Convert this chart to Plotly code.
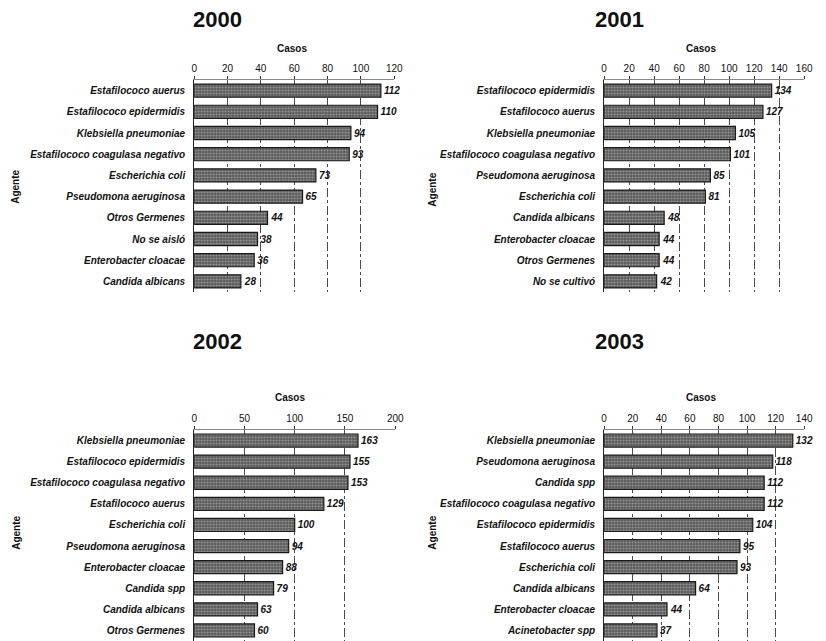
import plotly.graph_objects as go

W, H = 826, 641

# --- data -------------------------------------------------------------
years = ["2000", "2001", "2002", "2003"]

agentes_2000 = ["Estafilococo auerus", "Estafilococo epidermidis", "Klebsiella pneumoniae",
                "Estafilococo coagulasa negativo", "Escherichia coli", "Pseudomona aeruginosa",
                "Otros Germenes", "No se aisló", "Enterobacter cloacae", "Candida albicans"]
casos_2000 = [112, 110, 94, 93, 73, 65, 44, 38, 36, 28]

agentes_2001 = ["Estafilococo epidermidis", "Estafilococo auerus", "Klebsiella pneumoniae",
                "Estafilococo coagulasa negativo", "Pseudomona aeruginosa", "Escherichia coli",
                "Candida albicans", "Enterobacter cloacae", "Otros Germenes", "No se cultivó"]
casos_2001 = [134, 127, 105, 101, 85, 81, 48, 44, 44, 42]

agentes_2002 = ["Klebsiella pneumoniae", "Estafilococo epidermidis", "Estafilococo coagulasa negativo",
                "Estafilococo auerus", "Escherichia coli", "Pseudomona aeruginosa",
                "Enterobacter cloacae", "Candida spp", "Candida albicans", "Otros Germenes"]
casos_2002 = [163, 155, 153, 129, 100, 94, 88, 79, 63, 60]

agentes_2003 = ["Klebsiella pneumoniae", "Pseudomona aeruginosa", "Candida spp",
                "Estafilococo coagulasa negativo", "Estafilococo epidermidis", "Estafilococo auerus",
                "Escherichia coli", "Candida albicans", "Enterobacter cloacae", "Acinetobacter spp"]
casos_2003 = [132, 118, 112, 112, 104, 95, 93, 64, 44, 37]

x_max = [120, 160, 200, 140]
x_step = [20, 20, 50, 20]

# --- layout geometry (pixels) ----------------------------------------
# plot areas: (left, right, top, bottom)
boxes = [(194, 397, 80, 292), (610, 813, 80, 292),
         (194, 398, 430, 641), (610, 813, 430, 641)]
title_pos = [(218, 20), (626, 19), (218, 341), (626, 341)]
casos_pos = [(293, 49), (708, 49), (291, 397), (708, 397)]
agente_pos = [(13, 187), (435, 190), (13, 533), (435, 533)]

FONT = "Liberation Sans, Arial, sans-serif"
INK = "#111111"


def fx(px):
    return px / W


def fy(py):
    return 1 - py / H


panels = [(agentes_2000, casos_2000), (agentes_2001, casos_2001),
          (agentes_2002, casos_2002), (agentes_2003, casos_2003)]

fig = go.Figure()
layout = {}
annotations = []

for i, (cats, vals) in enumerate(panels):
    n = "" if i == 0 else str(i + 1)
    fig.add_trace(go.Bar(
        x=vals, y=cats, orientation="h",
        xaxis="x" + n, yaxis="y" + n,
        width=0.62,
        marker=dict(
            color="#5a5a5a",
            line=dict(color="#1a1a1a", width=1.2),
            pattern=dict(shape=".", fgcolor="#d6d6d6", bgcolor="#5a5a5a",
                         size=3, solidity=0.35),
        ),
        text=vals, texttemplate="%{x}", textposition="outside",
        textfont=dict(family=FONT, size=10, color=INK, weight="bold", style="italic"),
        cliponaxis=False, showlegend=False, hoverinfo="x+y",
    ))
    l, r, t, b = boxes[i]
    layout["xaxis" + n] = dict(
        domain=[fx(l), fx(r)], anchor="y" + n, side="top",
        range=[0, x_max[i]], dtick=x_step[i], tick0=0,
        showgrid=True, gridcolor="#4a4a4a", griddash="dashdot", gridwidth=1,
        showline=True, linecolor="#8a8a8a", linewidth=1,
        ticks="outside", ticklen=3, tickcolor="#333",
        tickfont=dict(family=FONT, size=10, color=INK),
        zeroline=False, fixedrange=True,
    )
    layout["yaxis" + n] = dict(
        domain=[fy(b), fy(t)], anchor="x" + n,
        categoryorder="array", categoryarray=cats, autorange="reversed",
        showline=True, linecolor="#222", linewidth=1,
        ticks="", ticklabelstandoff=6,
        tickfont=dict(family=FONT, size=10, color=INK, weight="bold", style="italic"),
        showgrid=False, fixedrange=True,
    )
    annotations.append(dict(
        text=years[i], x=fx(title_pos[i][0]), y=fy(title_pos[i][1]),
        xref="paper", yref="paper", showarrow=False,
        xanchor="center", yanchor="middle",
        font=dict(family=FONT, size=22, color=INK, weight="bold"),
    ))
    annotations.append(dict(
        text="Casos", x=fx(casos_pos[i][0]), y=fy(casos_pos[i][1]),
        xref="paper", yref="paper", showarrow=False,
        xanchor="center", yanchor="middle",
        font=dict(family=FONT, size=10, color=INK, weight="bold"),
    ))
    annotations.append(dict(
        text="Agente", x=fx(agente_pos[i][0]), y=fy(agente_pos[i][1]),
        xref="paper", yref="paper", showarrow=False, textangle=-90,
        xanchor="center", yanchor="middle",
        font=dict(family=FONT, size=10, color=INK, weight="bold"),
    ))

fig.update_layout(
    width=W, height=H,
    margin=dict(l=0, r=0, t=0, b=0),
    paper_bgcolor="white", plot_bgcolor="white",
    bargap=0.38,
    annotations=annotations,
    **layout,
)

fig.write_html("out.html")
